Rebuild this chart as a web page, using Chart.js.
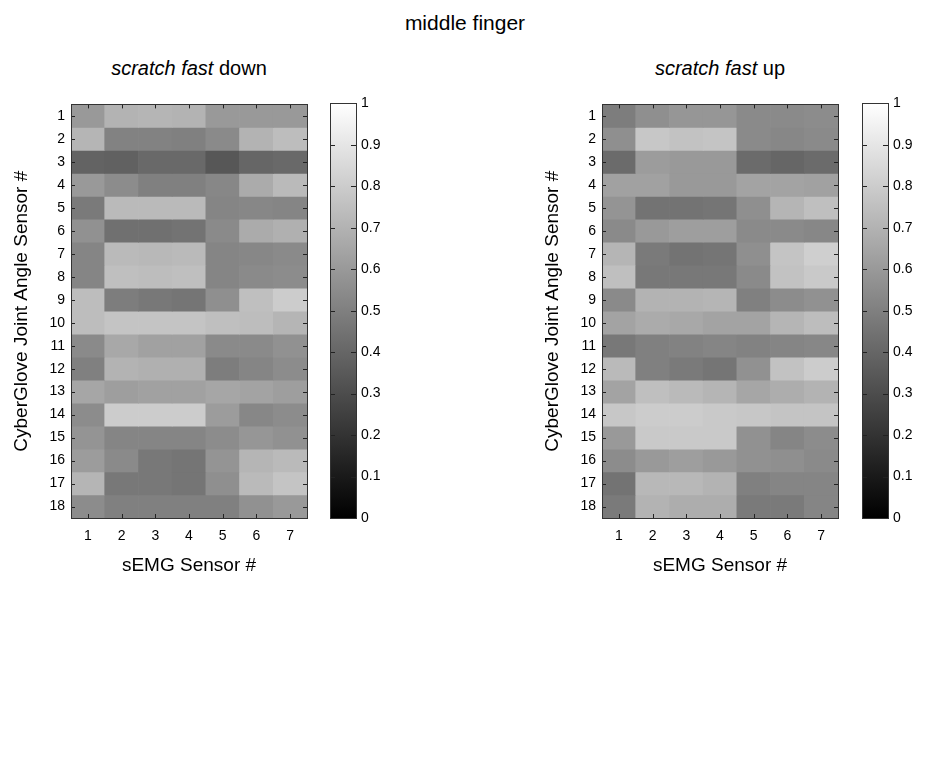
<!DOCTYPE html>
<html>
<head>
<meta charset="utf-8">
<script src="https://cdn.jsdelivr.net/npm/chart.js@4.4.0/dist/chart.umd.min.js"></script>
<style>
  body { margin: 0; background: #fff; width: 930px; height: 778px; position: relative; overflow: hidden; font-family: "Liberation Sans", Arial, sans-serif; color: #000; }
  .title { position: absolute; left: 0; width: 930px; top: 11px; text-align: center; font-size: 21px; }
  .sub { position: absolute; top: 57px; width: 300px; text-align: center; font-size: 20px; }
  canvas { position: absolute; }
</style>
</head>
<body>
<div class="title">middle finger</div>
<div class="sub" style="left:39px"><i>scratch fast</i> down</div>
<div class="sub" style="left:570px"><i>scratch fast</i> up</div>
<canvas id="downMap" width="320" height="500" style="left:0;top:90px"></canvas>
<canvas id="downBar" width="80" height="500" style="left:320px;top:90px"></canvas>
<canvas id="upMap" width="320" height="500" style="left:531px;top:90px"></canvas>
<canvas id="upBar" width="78" height="500" style="left:852px;top:90px"></canvas>
<script>
const emgSensors = [1, 2, 3, 4, 5, 6, 7];
const jointSensors = [1, 2, 3, 4, 5, 6, 7, 8, 9, 10, 11, 12, 13, 14, 15, 16, 17, 18];
const colorbarTicks = [0, 0.1, 0.2, 0.3, 0.4, 0.5, 0.6, 0.7, 0.8, 0.9, 1];

// one row per joint angle sensor, one value per sEMG sensor
const scratchDown = [
    [0.60, 0.70, 0.71, 0.70, 0.60, 0.60, 0.60],
    [0.71, 0.51, 0.51, 0.50, 0.54, 0.70, 0.74],
    [0.39, 0.38, 0.41, 0.41, 0.34, 0.40, 0.41],
    [0.60, 0.55, 0.50, 0.50, 0.53, 0.67, 0.73],
    [0.48, 0.73, 0.73, 0.73, 0.52, 0.53, 0.52],
    [0.57, 0.44, 0.44, 0.45, 0.54, 0.67, 0.69],
    [0.52, 0.73, 0.72, 0.73, 0.52, 0.53, 0.54],
    [0.52, 0.75, 0.74, 0.75, 0.52, 0.54, 0.55],
    [0.74, 0.49, 0.47, 0.46, 0.56, 0.75, 0.80],
    [0.74, 0.77, 0.77, 0.77, 0.75, 0.74, 0.71],
    [0.54, 0.66, 0.63, 0.63, 0.54, 0.54, 0.57],
    [0.50, 0.70, 0.69, 0.69, 0.49, 0.52, 0.55],
    [0.65, 0.62, 0.63, 0.63, 0.65, 0.64, 0.62],
    [0.55, 0.80, 0.80, 0.80, 0.61, 0.53, 0.55],
    [0.58, 0.52, 0.52, 0.52, 0.55, 0.59, 0.57],
    [0.61, 0.54, 0.47, 0.46, 0.58, 0.71, 0.73],
    [0.71, 0.47, 0.47, 0.46, 0.56, 0.73, 0.77],
    [0.55, 0.50, 0.50, 0.50, 0.50, 0.57, 0.60]
];

const scratchUp = [
    [0.49, 0.56, 0.59, 0.59, 0.54, 0.54, 0.55],
    [0.56, 0.78, 0.76, 0.77, 0.54, 0.53, 0.54],
    [0.42, 0.61, 0.60, 0.60, 0.42, 0.40, 0.42],
    [0.63, 0.63, 0.60, 0.60, 0.64, 0.64, 0.63],
    [0.58, 0.45, 0.45, 0.46, 0.56, 0.71, 0.75],
    [0.54, 0.60, 0.62, 0.62, 0.54, 0.54, 0.53],
    [0.71, 0.48, 0.45, 0.46, 0.56, 0.77, 0.81],
    [0.75, 0.47, 0.47, 0.47, 0.54, 0.76, 0.79],
    [0.54, 0.70, 0.70, 0.71, 0.50, 0.55, 0.57],
    [0.64, 0.67, 0.66, 0.64, 0.64, 0.71, 0.74],
    [0.47, 0.50, 0.51, 0.52, 0.51, 0.52, 0.53],
    [0.73, 0.50, 0.48, 0.46, 0.57, 0.76, 0.80],
    [0.64, 0.75, 0.73, 0.71, 0.65, 0.68, 0.70],
    [0.78, 0.80, 0.80, 0.79, 0.78, 0.77, 0.77],
    [0.60, 0.79, 0.79, 0.79, 0.57, 0.52, 0.55],
    [0.55, 0.60, 0.62, 0.60, 0.57, 0.56, 0.54],
    [0.45, 0.72, 0.72, 0.70, 0.50, 0.52, 0.52],
    [0.48, 0.70, 0.68, 0.68, 0.48, 0.48, 0.52]
];

const FONT = "'Liberation Sans', Arial, sans-serif";

function gray(v) {
    const c = Math.round(v * 255);
    return `rgb(${c},${c},${c})`;
}

// box around the plot area plus short inward tick marks on every side
const frameTicks = {
    id: "frameTicks",
    afterDatasetsDraw(chart, args, opts) {
        const { ctx, chartArea: a, scales } = chart;
        const len = opts.len || 4;
        ctx.save();
        ctx.strokeStyle = "#222";
        ctx.lineWidth = 1;
        ctx.beginPath();
        if (opts.xTicks) {
            scales.x.ticks.forEach((t, i) => {
                const px = Math.round(scales.x.getPixelForTick(i)) + 0.5;
                ctx.moveTo(px, a.top);
                ctx.lineTo(px, a.top + len);
                ctx.moveTo(px, a.bottom);
                ctx.lineTo(px, a.bottom - len);
            });
        }
        scales.y.ticks.forEach(t => {
            const py = Math.round(scales.y.getPixelForValue(t.value)) + 0.5;
            ctx.moveTo(a.left, py);
            ctx.lineTo(a.left + len, py);
            ctx.moveTo(a.right, py);
            ctx.lineTo(a.right - len, py);
        });
        ctx.stroke();
        ctx.strokeStyle = "#333";
        ctx.strokeRect(Math.round(a.left) + 0.5, Math.round(a.top) + 0.5,
            Math.round(a.right - a.left), Math.round(a.bottom - a.top));
        ctx.restore();
    }
};

function drawHeatmap(id, values) {
    new Chart(document.getElementById(id), {
        type: "bar",
        data: {
            labels: emgSensors,
            datasets: jointSensors.map((joint, r) => ({
                data: emgSensors.map(() => [joint - 0.5, joint + 0.5]),
                backgroundColor: values[r].map(gray),
                borderWidth: 0,
                grouped: false,
                barPercentage: 1,
                categoryPercentage: 1,
            })),
        },
        options: {
            responsive: false,
            animation: false,
            events: [],
            layout: { padding: { top: 13, right: 13 } },
            plugins: {
                legend: { display: false },
                tooltip: { enabled: false },
                frameTicks: { xTicks: true, len: 4 },
            },
            scales: {
                x: {
                    grid: { display: false, drawTicks: false },
                    border: { display: false },
                    ticks: { color: "#000", font: { family: FONT, size: 14 }, padding: 10 },
                    title: {
                        display: true,
                        text: "sEMG Sensor #",
                        color: "#000",
                        font: { family: FONT, size: 19 },
                        padding: { top: 0, bottom: 13 },
                    },
                    afterFit: s => { s.height = 72; },
                },
                y: {
                    type: "linear",
                    reverse: true,
                    min: 0.5,
                    max: 18.5,
                    afterBuildTicks: s => { s.ticks = jointSensors.map(v => ({ value: v })); },
                    grid: { display: false, drawTicks: false },
                    border: { display: false },
                    ticks: { color: "#000", font: { family: FONT, size: 14 }, padding: 6 },
                    title: {
                        display: true,
                        text: "CyberGlove Joint Angle Sensor #",
                        color: "#000",
                        font: { family: FONT, size: 19 },
                        padding: { top: 10, bottom: 0 },
                    },
                    afterFit: s => { s.width = 71; },
                },
            },
        },
        plugins: [frameTicks],
    });
}

function drawColorbar(id) {
    new Chart(document.getElementById(id), {
        type: "bar",
        data: {
            labels: [""],
            datasets: [{
                data: [[0, 1]],
                backgroundColor(context) {
                    const { ctx, chartArea } = context.chart;
                    if (!chartArea) return "#888";
                    const g = ctx.createLinearGradient(0, chartArea.bottom, 0, chartArea.top);
                    g.addColorStop(0, "#000");
                    g.addColorStop(1, "#fff");
                    return g;
                },
                borderWidth: 0,
                barPercentage: 1,
                categoryPercentage: 1,
            }],
        },
        options: {
            responsive: false,
            animation: false,
            events: [],
            layout: { padding: { top: 13, bottom: 72, left: 10 } },
            plugins: {
                legend: { display: false },
                tooltip: { enabled: false },
                frameTicks: { xTicks: false, len: 5 },
            },
            scales: {
                x: { display: false },
                y: {
                    position: "right",
                    min: 0,
                    max: 1,
                    afterBuildTicks: s => { s.ticks = colorbarTicks.map(v => ({ value: v })); },
                    grid: { display: false, drawTicks: false },
                    border: { display: false },
                    ticks: {
                        color: "#000",
                        font: { family: FONT, size: 14 },
                        padding: 5,
                        callback: v => String(v),
                    },
                    afterFit: s => { s.width = s.chart.width - 36; },
                },
            },
        },
        plugins: [frameTicks],
    });
}

drawHeatmap("downMap", scratchDown);
drawColorbar("downBar");
drawHeatmap("upMap", scratchUp);
drawColorbar("upBar");
</script>
</body>
</html>
